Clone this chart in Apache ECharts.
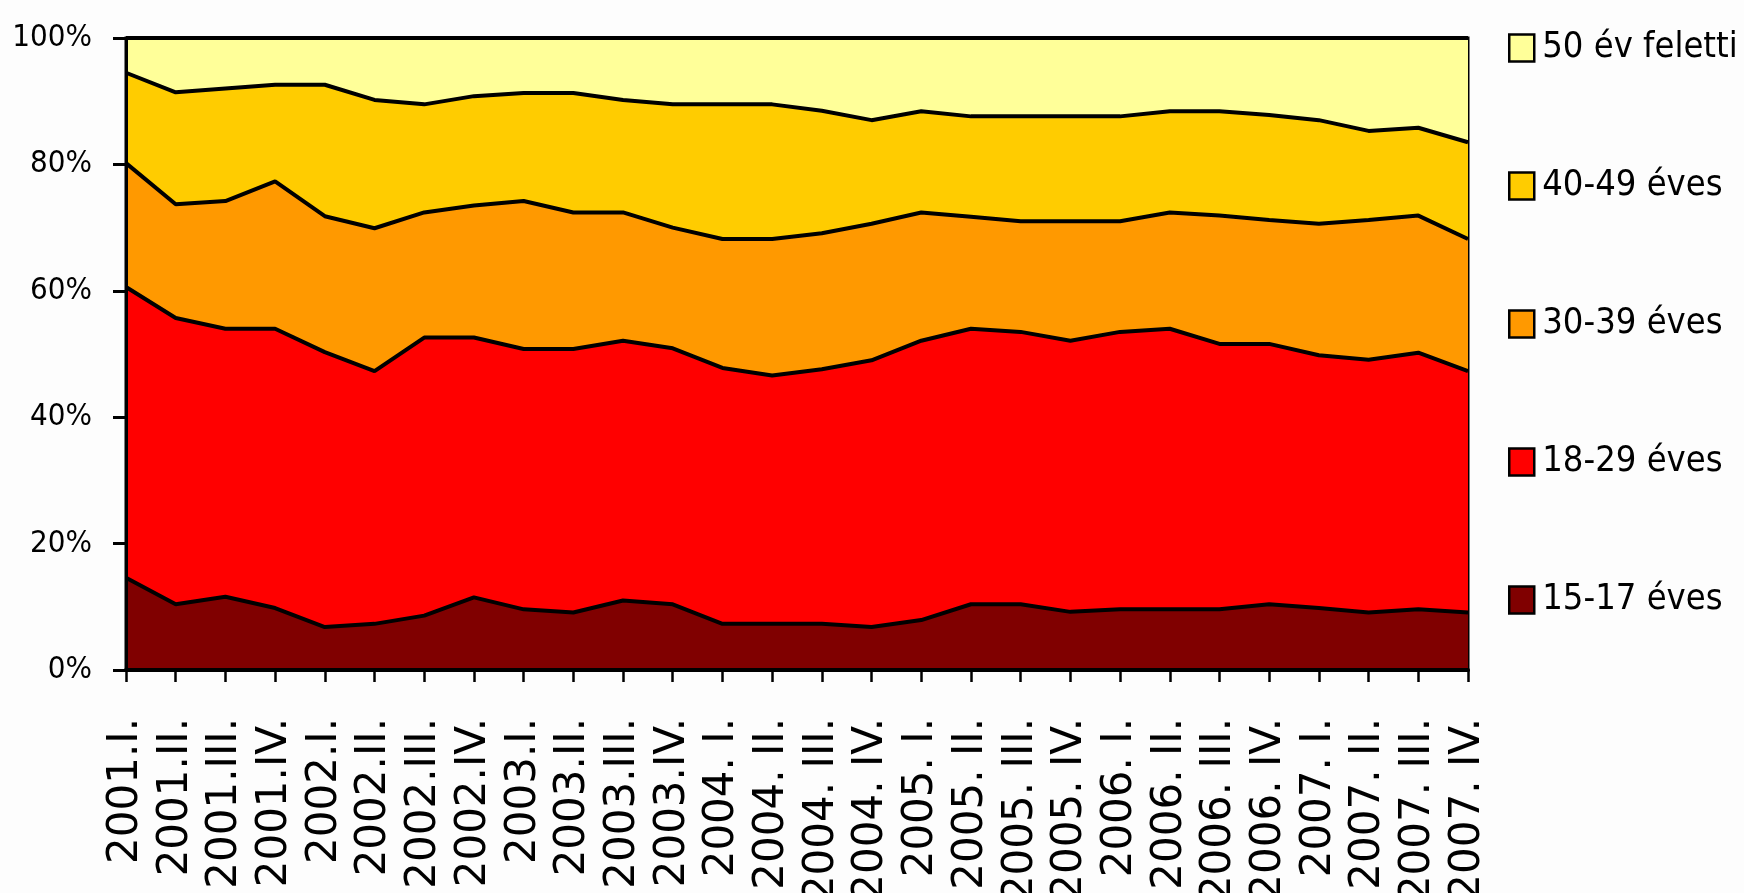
<!DOCTYPE html>
<html>
<head>
<meta charset="utf-8">
<title>Korcsoportok megoszlása</title>
<script src="https://cdn.jsdelivr.net/npm/echarts@6/dist/echarts.min.js"></script>
<style>
  html, body { margin: 0; padding: 0; background: #fdfdfd; }
  #chart { width: 1744px; height: 893px; }
</style>
</head>
<body>
<div id="chart"></div>
<script>
// Negyedévek
const quarters = [
  '2001.I.', '2001.II.', '2001.III.', '2001.IV.',
  '2002.I.', '2002.II.', '2002.III.', '2002.IV.',
  '2003.I.', '2003.II.', '2003.III.', '2003.IV.',
  '2004. I.', '2004. II.', '2004. III.', '2004. IV.',
  '2005. I.', '2005. II.', '2005. III.', '2005. IV.',
  '2006. I.', '2006. II.', '2006. III.', '2006. IV.',
  '2007. I.', '2007. II.', '2007. III.', '2007. IV.'
];

// Korcsoportok aránya (%), negyedévenként
const age15to17 = [14.6, 10.4, 11.6, 9.8, 6.8, 7.3, 8.6, 11.5, 9.6, 9.1, 11.0, 10.4, 7.3, 7.3,
                   7.3, 6.8, 7.9, 10.4, 10.4, 9.2, 9.6, 9.6, 9.6, 10.4, 9.8, 9.1, 9.6, 9.1];
const age18to29 = [46.0, 45.3, 42.4, 44.2, 43.5, 40.0, 44.0, 41.1, 41.2, 41.7, 41.1, 40.5, 40.5, 39.3,
                   40.3, 42.2, 44.2, 43.6, 43.1, 42.9, 43.9, 44.4, 42.0, 41.2, 40.0, 40.0, 40.6, 38.2];
const age30to39 = [19.6, 18.0, 20.2, 23.3, 21.5, 22.6, 19.8, 20.9, 23.4, 21.6, 20.3, 19.1, 20.4, 21.6,
                   21.5, 21.6, 20.3, 17.7, 17.5, 18.9, 17.5, 18.4, 20.3, 19.6, 20.8, 22.1, 21.7, 20.9];
const age40to49 = [14.3, 17.7, 17.8, 15.3, 20.8, 20.3, 17.1, 17.3, 17.1, 18.9, 17.8, 19.5, 21.3, 21.3,
                   19.4, 16.4, 16.0, 15.9, 16.6, 16.6, 16.6, 16.0, 16.5, 16.6, 16.4, 14.1, 13.9, 15.3];
const age50plus = [5.5, 8.6, 8.0, 7.4, 7.4, 9.8, 10.5, 9.2, 8.7, 8.7, 9.8, 10.5, 10.5, 10.5,
                   11.5, 13.0, 11.6, 12.4, 12.4, 12.4, 12.4, 11.6, 11.6, 12.2, 13.0, 14.7, 14.2, 16.5];

const yTicks = [0, 20, 40, 60, 80, 100];

const groups = [
  { name: '15-17 éves',   data: age15to17, color: '#800000' },
  { name: '18-29 éves',   data: age18to29, color: '#ff0000' },
  { name: '30-39 éves',   data: age30to39, color: '#ff9900' },
  { name: '40-49 éves',   data: age40to49, color: '#ffcc00' },
  { name: '50 év feletti', data: age50plus, color: '#ffff99' }
];

const condensed = '"DejaVu Sans Condensed", "DejaVu Sans", sans-serif';
const regular = '"DejaVu Sans", sans-serif';

const chart = echarts.init(document.getElementById('chart'), null, { renderer: 'canvas' });

chart.setOption({
  backgroundColor: '#fdfdfd',
  animation: false,
  grid: {
    left: 126, right: 276, top: 38, bottom: 223,
    outerBoundsMode: 'none',
    containLabel: false,
    show: true, borderColor: '#000', borderWidth: 3, backgroundColor: 'transparent'
  },
  legend: {
    orient: 'vertical',
    left: 1503,
    top: 25,
    icon: 'rect',
    itemWidth: 25,
    itemHeight: 27,
    itemGap: 102,
    selectedMode: false,
    itemStyle: { borderColor: '#000', borderWidth: 2.5 },
    textStyle: {
      fontFamily: condensed, fontSize: 36, color: '#000',
      padding: [0, 0, 0, 3]
    },
    data: groups.map(g => g.name).reverse()
  },
  xAxis: {
    type: 'category',
    data: quarters,
    boundaryGap: false,
    z: 10,
    axisLine: { lineStyle: { color: '#000', width: 4 } },
    axisTick: { show: true, interval: 0, length: 12, lineStyle: { color: '#000', width: 2.5 } },
    axisLabel: {
      interval: 0,
      rotate: 90,
      margin: 48,
      fontFamily: regular,
      fontSize: 42,
      color: '#000'
    }
  },
  yAxis: {
    type: 'value',
    min: yTicks[0],
    max: yTicks[yTicks.length - 1],
    interval: yTicks[1] - yTicks[0],
    z: 10,
    axisLine: { show: true, lineStyle: { color: '#000', width: 3 } },
    axisTick: { show: true, length: 13, lineStyle: { color: '#000', width: 3 } },
    splitLine: { show: false },
    axisLabel: {
      formatter: '{value}%',
      margin: 34,
      fontFamily: condensed,
      fontSize: 31,
      color: '#000'
    }
  },
  series: groups.map((g, i) => ({
    name: g.name,
    type: 'line',
    stack: 'total',
    data: g.data,
    z: 8 - i,
    symbol: 'none',
    showSymbol: false,
    itemStyle: { color: g.color },
    lineStyle: { color: '#000', width: 4 },
    areaStyle: { color: g.color, opacity: 1 },
    emphasis: { disabled: true }
  }))
});
</script>
</body>
</html>
